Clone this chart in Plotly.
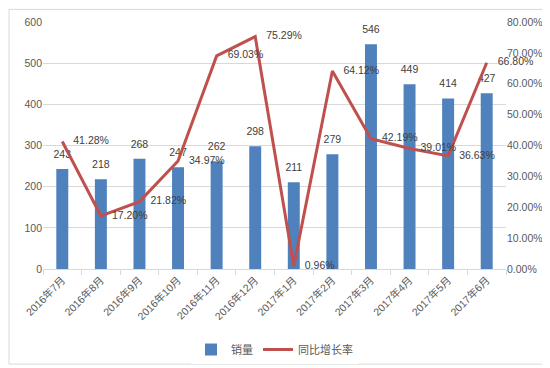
import plotly.graph_objects as go

categories = ["2016年7月", "2016年8月", "2016年9月", "2016年10月", "2016年11月", "2016年12月",
              "2017年1月", "2017年2月", "2017年3月", "2017年4月", "2017年5月", "2017年6月"]
sales = [243, 218, 268, 247, 262, 298, 211, 279, 546, 449, 414, 427]
growth = [41.28, 17.20, 21.82, 34.97, 69.03, 75.29, 0.96, 64.12, 42.19, 39.01, 36.63, 66.80]

FONT = "Liberation Sans, Noto Sans CJK SC, sans-serif"
TS = 10.5
CLEAR = "rgba(0,0,0,0)"

fig = go.Figure()
fig.add_trace(go.Bar(
    x=categories, y=sales, name="销量",
    marker=dict(color="#4F81BD", line=dict(width=0)),
))
fig.add_trace(go.Scatter(
    x=categories, y=sales, mode="markers+text", showlegend=False, hoverinfo="skip",
    marker=dict(size=12, color=CLEAR),
    text=[str(v) for v in sales], textposition="top center",
    textfont=dict(size=TS, color="#404040", family=FONT),
    cliponaxis=False,
))
fig.add_trace(go.Scatter(
    x=categories, y=growth, name="同比增长率", yaxis="y2",
    mode="lines+markers+text",
    line=dict(color="#C0504D", width=3),
    marker=dict(size=16, color=CLEAR),
    text=[f"{v:.2f}%" for v in growth], textposition="middle right",
    textfont=dict(size=TS, color="#404040", family=FONT),
    cliponaxis=False,
))

fig.update_layout(
    width=550, height=368,
    margin=dict(l=35, r=52, t=14, b=99),
    paper_bgcolor="white", plot_bgcolor="white",
    font=dict(family=FONT, size=TS, color="#595959"),
    bargap=0.69,
    showlegend=True,
    legend=dict(orientation="h", x=0.5, xanchor="center", y=-0.326, yanchor="middle",
                font=dict(size=11, color="#595959"), itemwidth=30),
    xaxis=dict(
        type="category", tickangle=-45, showgrid=False, automargin=False,
        range=[-0.5, len(categories) - 0.5],
        showline=True, linecolor="#D9D9D9", linewidth=1,
        ticks="outside", tickson="boundaries", ticklen=5, tickcolor="#D9D9D9",
        tickfont=dict(size=TS, color="#595959"),
    ),
    yaxis=dict(
        range=[0, 600], dtick=100, showgrid=True, gridcolor="#D9D9D9", gridwidth=1,
        zeroline=False, showline=False, ticks="", automargin=False,
        tickfont=dict(size=TS, color="#595959"),
    ),
    yaxis2=dict(
        range=[0, 80], dtick=10, overlaying="y", side="right", showgrid=False,
        zeroline=False, showline=False, ticks="", automargin=False,
        ticksuffix="%", tickformat=".2f",
        tickfont=dict(size=TS, color="#595959"),
    ),
    shapes=[dict(type="rect", xref="paper", yref="paper",
                 x0=-34/463, x1=(463+51)/463, y0=-98/254.5, y1=(254.5+13)/254.5,
                 line=dict(color="#D9D9D9", width=1), fillcolor="rgba(0,0,0,0)", layer="below")],
)

fig.write_html("out.html")
